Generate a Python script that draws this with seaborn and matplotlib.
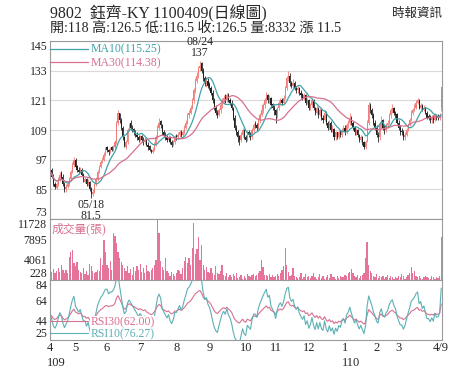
import numpy as np
import pandas as pd
import matplotlib
matplotlib.use("Agg")
import matplotlib.pyplot as plt
import seaborn as sns

# 9802 daily candles, 2020/04 .. 2021/04/09
opens = [90, 93, 90, 87, 85.5, 87, 89, 91.5, 90, 87,
         85, 86, 87, 89, 92, 95, 97, 94.5, 93, 92,
         93, 91, 88, 89, 87, 88, 85, 83, 84, 87,
         89, 92, 94, 96.5, 97, 99, 102, 101, 100, 102,
         101, 102, 104, 112, 116, 113, 110, 106, 102, 104,
         109, 112, 110, 109.5, 108, 107, 106, 105, 106.5, 105,
         104, 105, 103, 102.5, 101, 100, 101, 103, 106, 110,
         112.5, 111, 108, 107, 106, 105, 106, 104, 103, 104,
         106.5, 106, 107, 108, 107, 108, 110, 112, 115, 116,
         118, 121, 125, 129, 131, 134, 136, 133, 130, 128,
         129, 127.5, 126, 124, 121, 118, 116, 115, 117, 119,
         121, 122.5, 121, 123, 121, 120, 118, 114, 110, 108,
         106.5, 105, 107, 109, 106, 105, 108, 107, 106, 109,
         111.5, 111, 110, 113, 115, 117, 119, 121, 123, 121,
         122, 119.5, 118, 117, 115, 118, 120, 121, 120, 122,
         126, 130, 131, 128, 127, 128, 126, 125, 126, 124,
         123.5, 121.5, 123, 120, 121, 118, 119, 121, 118, 116,
         118, 115, 117, 114, 113, 116, 112, 110, 112, 109,
         109.5, 106, 108, 106, 108, 107, 109, 110, 108, 111,
         112, 114, 112, 110, 108, 109, 107, 105, 106, 104,
         102, 104.5, 112, 119, 117, 115, 112, 110, 107, 106,
         111, 113, 110, 109, 111, 112, 115, 117, 118, 116,
         115.5, 112, 110, 108.5, 108, 106, 107, 109, 111, 113,
         116, 117, 118, 120, 121, 118, 119, 117, 118, 116,
         114.5, 114, 113, 114, 113, 115, 114.5, 114, 118]
highs = [94.5, 93.5, 91, 88, 88, 90, 92, 92.5, 91, 88,
         87, 88, 90, 93, 96, 98, 97.5, 95, 94, 94,
         93.5, 91.5, 90, 89.5, 89, 88.5, 86, 85, 87.5, 90,
         93, 95, 97, 98, 100, 102, 102.5, 101.5, 102, 102.5,
         103, 105, 112.5, 117, 116, 114, 110.5, 106.5, 105, 110,
         112, 113, 111, 110, 109, 108, 107, 107, 107, 106,
         106, 105.5, 104, 103, 101.5, 102, 104, 107, 111, 114,
         113, 111.5, 109, 108, 107, 107, 106.5, 105, 105, 107,
         107.5, 108, 109, 109, 109, 111, 113, 116, 117, 119,
         122, 126, 130, 132.5, 135, 137, 136.5, 134, 131, 130.5,
         130, 128.5, 127, 125, 122, 119, 117, 118, 120, 122,
         123, 123.5, 124, 124, 122, 121, 118.5, 115, 111, 109,
         107, 108, 110, 109.5, 107, 109, 109, 108, 110, 112,
         112.5, 112, 114, 116, 118, 120, 122, 124.5, 123.5, 123,
         122.5, 120, 119, 117.5, 118.5, 121, 122, 122, 123, 127,
         131, 133, 132, 129, 129.5, 129, 127, 127, 126.5, 125,
         124, 124, 123.5, 122, 121.5, 120, 122, 121.5, 118.5, 119,
         118.5, 118, 117.5, 115, 117, 116.5, 112.5, 113, 112.5, 111,
         110, 108.5, 108, 109, 109, 110, 111, 111, 112, 113,
         116, 114.5, 112.5, 110.5, 110, 109.5, 107.5, 107, 106.5, 104.5,
         105, 113, 120.5, 120, 118, 116, 113, 111, 108, 112,
         114.5, 113.5, 111, 112, 113, 116, 118, 119.5, 118.5, 116.5,
         116, 113, 111, 110, 109, 108, 110, 112, 114, 117,
         118, 119.5, 121, 122, 121.5, 120, 119.5, 119, 118.5, 116.5,
         115.5, 115, 115, 115, 116, 115.5, 115.5, 116, 126.5]
lows = [89, 89.5, 86.5, 85, 85, 86.5, 88.5, 89, 86.5, 84,
        84, 85.5, 86.5, 88.5, 91.5, 94, 93.5, 92, 91, 91.5,
        90.5, 88, 87.5, 86.5, 86.5, 84.5, 81.5, 82.5, 83.5, 86.5,
        88.5, 91.5, 93.5, 95.5, 96.5, 98.5, 100, 99, 99.5, 100.5,
        100.5, 101.5, 103.5, 111, 112, 109, 105, 102, 101.5, 103.5,
        108.5, 109, 108, 107, 106, 105, 104, 104.5, 104, 103,
        103.5, 102.5, 101, 100.5, 99.5, 99.5, 100.5, 102.5, 105.5, 109,
        110, 107, 106, 105, 104, 104, 103.5, 102, 102.5, 103.5,
        105, 105.5, 106, 106, 106, 107.5, 109.5, 111.5, 114, 115.5,
        117.5, 120, 124, 128, 130, 133, 132, 129, 127, 126.5,
        126, 125, 123, 120, 117, 115, 114, 114.5, 116, 118,
        120, 120, 120.5, 120.5, 119, 117, 113, 109, 107, 104,
        103, 104, 106, 105.5, 104, 104.5, 106, 105, 105.5, 108,
        110, 109, 109.5, 112, 114.5, 116, 118, 120, 120, 120,
        118, 117, 115, 112, 114, 117, 119, 119, 119.5, 121.5,
        125, 129, 127, 126, 126, 125, 124, 124, 123, 122,
        121, 121, 119, 119.5, 117, 117, 118.5, 117, 115, 115.5,
        114, 114.5, 113, 112, 112.5, 111, 109, 109.5, 108, 108,
        105, 105, 105.5, 105.5, 106, 106, 108, 107, 107.5, 110,
        111, 111, 109, 107, 107, 106, 104, 104, 103, 101.5,
        101.5, 104, 111, 116, 114, 111, 109, 106, 104, 105,
        110, 109, 107.5, 108, 110, 111.5, 114, 116, 115, 114,
        111.5, 109, 107, 107, 105, 105, 106.5, 108.5, 110.5, 112.5,
        115, 116.5, 117.5, 119.5, 117.5, 117, 116.5, 116.5, 115.5, 113.5,
        113, 112, 112, 112, 112.5, 113, 113, 113, 116.5]
closes = [92, 90, 87, 86, 87, 89, 91, 90, 87, 85,
          86, 87, 89, 92, 95, 97, 94, 93, 92, 93,
          91, 89, 89, 87, 88, 85, 83, 84, 87, 89,
          92, 94, 96, 97, 99, 101, 101, 100, 101, 101,
          102, 104, 112, 116, 113, 110, 106, 103, 104, 109,
          111, 110, 109, 108, 107, 106, 105, 106, 105, 104,
          105, 103, 102, 101, 100, 101, 103, 106, 110, 112,
          111, 108, 107, 106, 105, 106, 104, 103, 104, 106,
          106, 107, 108, 107, 108, 110, 112, 115, 116, 118,
          121, 125, 129, 131, 134, 135, 133, 130, 128, 129,
          127, 126, 124, 121, 118, 116, 115, 117, 119, 121,
          122, 121, 123, 121, 120, 118, 114, 110, 108, 106,
          105, 107, 109, 106, 105, 108, 107, 106, 109, 111,
          111, 110, 113, 115, 117, 119, 121, 123, 121, 122,
          119, 118, 117, 115, 118, 120, 121, 120, 122, 126,
          130, 131, 128, 127, 128, 126, 125, 126, 124, 123,
          122, 123, 120, 121, 118, 119, 121, 118, 116, 118,
          115, 117, 114, 113, 116, 112, 110, 112, 109, 110,
          106, 108, 106, 108, 107, 109, 110, 108, 111, 112,
          114, 112, 110, 108, 109, 107, 105, 106, 104, 102,
          104, 112, 119, 117, 115, 112, 110, 107, 106, 111,
          113, 110, 109, 111, 112, 115, 117, 118, 116, 115,
          112, 110, 108, 108, 106, 107, 109, 111, 113, 116,
          117, 118, 120, 121, 118, 119, 117, 118, 116, 114,
          114, 113, 114, 113, 115, 114, 114, 115, 126.5]
volumes = [3100, 1800, 2300, 1500, 2000, 2500, 1700, 3100, 2200, 1500,
           2100, 1600, 4500, 5600, 5900, 3500, 2800, 3600, 2200, 1800,
           1500, 2400, 1300, 2000, 1200, 3300, 2800, 2000, 1500, 1800,
           2200, 1900, 4400, 3000, 7800, 5500, 3000, 2500, 3800, 2200,
           9100, 8600, 7200, 5600, 4400, 3600, 3000, 2500, 2000, 2800,
           1500, 2300, 1200, 2600, 1900, 2800, 2200, 3200, 1800, 2500,
           1600, 3100, 2000, 1700, 2200, 2500, 3000, 4000, 11728, 9000,
           3800, 2600, 2200, 4400, 2000, 1500, 1000, 1800, 1300, 900,
           1500, 2200, 2000, 1300, 2500, 3800, 4500, 3400, 4400, 3000,
           6200, 10900, 5200, 6100, 8300, 4000, 6800, 3000, 2200, 2600,
           1800, 1500, 2400, 1600, 1200, 2800, 1500, 1300, 2000, 3000,
           1200, 900, 1500, 800, 1100, 700, 1300, 900, 1600, 600,
           800, 1200, 500, 1000, 600, 1400, 900, 700, 1100, 1300,
           900, 1200, 1500, 2000, 4000, 2700, 1200, 1100, 900, 1400,
           800, 1200, 700, 900, 1300, 1000, 1500, 2100, 2800, 6300,
           3100, 1800, 900, 1200, 2500, 1000, 700, 600, 800, 1500,
           500, 800, 1300, 700, 1000, 600, 900, 1500, 700, 500,
           800, 1400, 600, 900, 500, 700, 1100, 600, 1300, 800,
           700, 500, 900, 600, 1000, 800, 700, 1200, 900, 1600,
           1800, 2300, 1500, 1000, 800, 1200, 600, 900, 1100, 1600,
           4400, 7400, 3000, 2000, 1500, 1000, 800, 1300, 600, 900,
           700, 1000, 500, 800, 1200, 600, 900, 700, 500, 800,
           600, 1000, 700, 1300, 900, 500, 800, 1100, 1600, 2600,
           1500, 2000, 1000, 700, 900, 600, 500, 800, 1000, 700,
           600, 500, 900, 700, 400, 800, 600, 1000, 8332]

month_labels = ["4", "5", "6", "7", "8", "9", "10", "11", "12", "1", "2", "3"]
month_days = [16, 20, 21, 23, 21, 23, 19, 21, 23, 20, 14, 23, 5]
year_labels = {"4": "109", "1": "110"}
last_label = "4/9"

price_ticks = [73, 85, 97, 109, 121, 133, 145]
vol_ticks = [228, 4061, 7895, 11728]
rsi_ticks = [25, 44, 64, 84]

title = "9802  鈺齊-KY 1100409(日線圖)"
summary = "開:118 高:126.5 低:116.5 收:126.5 量:8332 漲 11.5"
source = "時報資訊"
high_date = "08/24"
low_date = "05/18"
rsi_values = {"RSI30": 62.00, "RSI10": 76.27}

UP, DOWN = "#ef7d78", "#222222"
TEAL, PINK = "#3fa3a8", "#d8708f"
VOL = "#e6739a"
GRAY = "#9a9a9a"

#%%
df = pd.DataFrame({"open": opens, "high": highs, "low": lows,
                   "close": closes, "volume": volumes})
assert len(df) == sum(month_days)
df["day"] = np.arange(len(df))
df["MA10"] = df["close"].rolling(10, min_periods=1).mean()
df["MA30"] = df["close"].rolling(30, min_periods=1).mean()

# Wilder RSI, started from a neutral state
diff = df["close"].diff().fillna(0)
gain = diff.clip(lower=0)
loss = (-diff).clip(lower=0)
gain.iloc[0] = loss.iloc[0] = 1.0
for n in (10, 30):
    avg_g = gain.ewm(alpha=1 / n, adjust=False).mean()
    avg_l = loss.ewm(alpha=1 / n, adjust=False).mean()
    df[f"RSI{n}"] = 100 * avg_g / (avg_g + avg_l)

#%%
sns.set_theme(style="white")
plt.rcParams["font.family"] = ["Liberation Serif", "Noto Sans CJK TC"]
plt.rcParams["axes.edgecolor"] = GRAY
FS = 8.5

fig = plt.figure(figsize=(4.74, 3.79), dpi=100)


def panel(top, bottom):
    return fig.add_axes([49.5 / 474, 1 - bottom / 379, 392.5 / 474, (bottom - top) / 379])


ax_p = panel(41, 219)
ax_v = panel(219, 280)
ax_r = panel(280, 340)

# candles
up = df["close"] >= df["open"]
colors = np.where(up, UP, DOWN)
ax_p.vlines(df["day"], df["low"], df["high"], colors=colors, lw=0.6, zorder=2)
body_low = df[["open", "close"]].min(axis=1)
body_h = (df["close"] - df["open"]).abs().clip(lower=0.25)
ax_p.bar(df["day"], body_h, bottom=body_low, width=0.75, color=colors, linewidth=0, zorder=2)

sns.lineplot(data=df, x="day", y="MA10", ax=ax_p, color=TEAL, lw=0.9,
             label=f"MA10({df['MA10'].iloc[-1]:.2f})", zorder=3)
sns.lineplot(data=df, x="day", y="MA30", ax=ax_p, color=PINK, lw=0.9,
             label=f"MA30({df['MA30'].iloc[-1]:.2f})", zorder=3)
leg = ax_p.legend(loc="upper left", bbox_to_anchor=(0, 0.985), frameon=False,
                  handlelength=3.3, handletextpad=0.15, borderpad=0, borderaxespad=0,
                  labelspacing=0.1, fontsize=FS, labelcolor="linecolor")

ih = df["high"].idxmax()
il = df["low"].idxmin()
ax_p.annotate(f"{high_date}\n{df['high'][ih]:g}", (ih, df["high"][ih]), xytext=(0, 1),
              textcoords="offset points", ha="center", va="bottom", fontsize=FS,
              linespacing=0.95, annotation_clip=False)
ax_p.annotate(f"{low_date}\n{df['low'][il]:g}", (il, df["low"][il]), xytext=(0, -1),
              textcoords="offset points", ha="center", va="top", fontsize=FS,
              linespacing=0.85, clip_on=True)

ax_p.set_ylim(price_ticks[0], price_ticks[-1])
ax_p.set_yticks(price_ticks)
ax_p.yaxis.grid(True, color="#d9d9d9", lw=0.8)
ax_p.set_axisbelow(True)

# volume
ax_v.bar(df["day"], df["volume"], width=0.8, color=VOL, linewidth=0)
ax_v.set_ylim(vol_ticks[0], vol_ticks[-1])
ax_v.set_yticks(vol_ticks)
ax_v.text(0.004, 0.94, "成交量(張)", transform=ax_v.transAxes, color=PINK,
          fontsize=FS, va="top", ha="left")
ax_v.spines["bottom"].set_color(VOL)

# RSI
sns.lineplot(data=df, x="day", y="RSI30", ax=ax_r, color=PINK, lw=0.8,
             label=f"RSI30({rsi_values['RSI30']:.2f})")
sns.lineplot(data=df, x="day", y="RSI10", ax=ax_r, color="#5db0b5", lw=0.8,
             label=f"RSI10({rsi_values['RSI10']:.2f})")
leg_r = ax_r.legend(loc="lower left", bbox_to_anchor=(0, 0.0), frameon=False,
                    handlelength=3.3, handletextpad=0.15, borderpad=0, borderaxespad=0,
                    labelspacing=0.0, fontsize=FS, labelcolor="linecolor")
for t in leg_r.get_texts():
    t.set_bbox(dict(facecolor="white", edgecolor="none", pad=0.3))
ax_r.set_ylim(rsi_ticks[0], rsi_ticks[-1])
ax_r.set_yticks(rsi_ticks)

# axes styling
starts = np.concatenate([[0], np.cumsum(month_days)[:-1]])
tick_pos = list(starts[:len(month_labels)]) + [len(df) - 1]
for ax in (ax_p, ax_v, ax_r):
    ax.set_xlim(-0.5, len(df) - 0.5)
    ax.set_xlabel("")
    ax.set_ylabel("")
    ax.tick_params(length=0, labelsize=FS, pad=1.5)
    for s in ax.spines.values():
        s.set_linewidth(0.8)
    labels = ax.get_yticklabels()
    labels[0].set_va("bottom")
    labels[-1].set_va("top")
for ax in (ax_p, ax_v):
    ax.set_xticks([])

ax_r.set_xticks(tick_pos)
ax_r.set_xticklabels(month_labels + [last_label], fontsize=9)
for lab, pos in zip(month_labels, starts):
    if lab in year_labels:
        ax_r.annotate(year_labels[lab], (pos, 0), xycoords=("data", "axes fraction"),
                      xytext=(-2.5, -12), textcoords="offset points",
                      ha="left", va="top", fontsize=9)

fig.text(50 / 474, 1 - 13.5 / 379, title, fontsize=11.4, va="center", ha="left")
fig.text(50 / 474, 1 - 28.5 / 379, summary, fontsize=10.1, va="center", ha="left")
fig.text(442 / 474, 1 - 14 / 379, source, fontsize=9, va="center", ha="right")

fig.savefig("out.png", dpi=100)
